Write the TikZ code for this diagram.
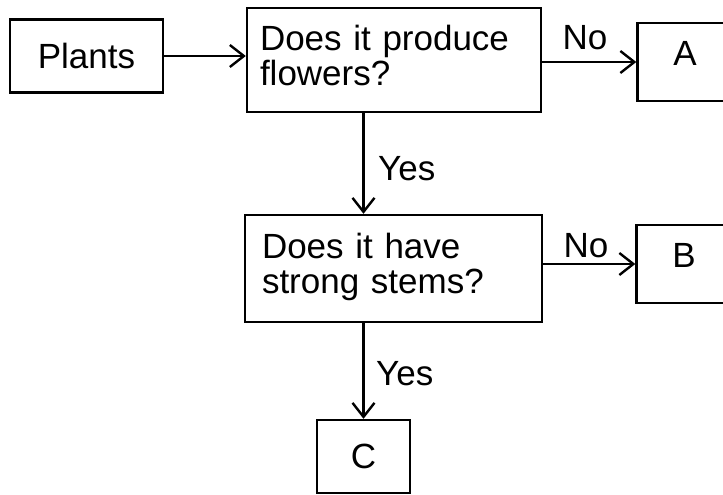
\documentclass[tikz,border=0pt]{standalone}
\usepackage{fontspec}
\setmainfont{Liberation Sans}
\usetikzlibrary{arrows.meta}

\tikzset{
  box/.style={draw,line width=2.4pt,inner sep=0pt,font=\fontsize{35}{35}\selectfont},
  question/.style={box,align=left,text depth=45pt},
  letter/.style={box,minimum width=95pt,minimum height=78pt,text depth=18pt},
  arr/.style={line width=2.4pt,-{Straight Barb[length=14pt,width=22pt]}},
  lbl/.style={font=\fontsize{35}{35}\selectfont,inner sep=0pt}
}

\begin{document}
\begin{tikzpicture}[x=1pt,y=-1pt]%
                \useasboundingbox (0,0) rectangle (723,495);
                \clip (0,0) rectangle (723,495);

                \node[box,minimum width=153pt,minimum height=73pt] (P) at (86.5,56) {Plants};
                \node[question,text width=268pt,minimum width=294pt,minimum height=104pt] (Q1) at (394,60) {Does it produce\\flowers?};
                \node[letter] (A) at (685,62) {A};
                \node[question,text width=263pt,minimum width=297pt,minimum height=107pt] (Q2) at (393.5,268.5) {Does it have\\strong stems?};
                \node[letter] (B) at (684,264) {B};
                \node[box,minimum width=93pt,minimum height=73pt] (C) at (363.5,456.5) {C};

                \node[lbl,anchor=base] (no1) at (585,50) {No};
                \node[lbl,anchor=base west] (yes1) at (378,180) {Yes};
                \node[lbl,anchor=base] (no2) at (586,257) {No};
                \node[lbl,anchor=base west] (yes2) at (376,385) {Yes};

                \path [arr] (P.east) edge (P.east -| Q1.west);
                \path [arr] (Q1.east |- A.west) edge (A.west);
                \path [arr] (Q1.south -| C.north) edge (Q2.north -| C.north);
                \path [arr] (Q2.east |- B.west) edge (B.west);
                \path [arr] (Q2.south -| C.north) edge (C.north);
            \end{tikzpicture}
\end{document}
